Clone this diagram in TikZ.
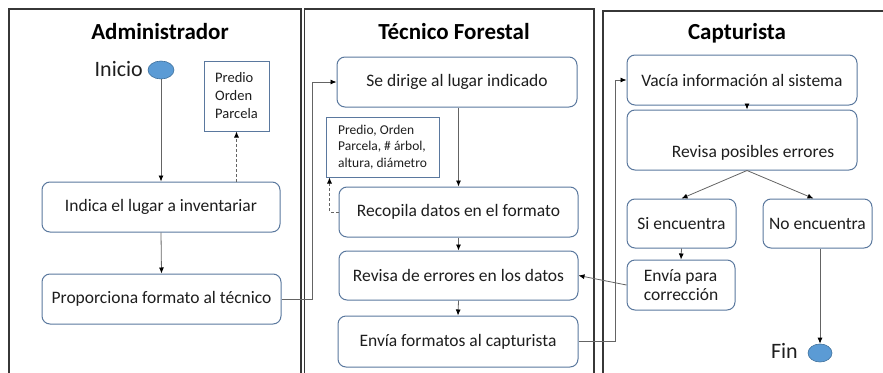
\documentclass[tikz,border=0pt]{standalone}
\usepackage{fontspec}
\setmainfont{Carlito}
\usetikzlibrary{arrows.meta,shapes.geometric}
\definecolor{boxc}{RGB}{90,120,158}
\definecolor{ellf}{RGB}{91,155,213}
\definecolor{elld}{RGB}{65,113,156}
\definecolor{lane}{RGB}{55,55,55}
\definecolor{conn}{RGB}{100,100,100}
\definecolor{txt}{RGB}{30,30,30}
\begin{document}
\begin{tikzpicture}[x=1pt,y=-1pt,
  btxt/.style={font=\fontsize{17.5}{21}\selectfont, text=txt},
  box/.style={draw=boxc, line width=1pt, rounded corners=8pt, fill=white, btxt, inner sep=0pt},
  note/.style={draw=boxc, line width=1pt, fill=white, text=txt, align=left, inner sep=0pt},
  title/.style={font=\bfseries\fontsize{23}{27}\selectfont, text=black},
  term/.style={ellipse, draw=elld, fill=ellf, line width=0.6pt, minimum width=26pt, minimum height=18pt, inner sep=0pt},
  bigtxt/.style={font=\fontsize{22}{26}\selectfont, text=txt, inner sep=0pt, anchor=east},
  arr/.style={draw=conn, line width=0.8pt, -{Latex[length=6pt,width=5pt,color=black]}},
  darr/.style={arr, dashed, dash pattern=on 3pt off 2pt},
  lanel/.style={draw=lane, line width=1.6pt}
]
\useasboundingbox (0,0) rectangle (883,372);
\clip (0,0) rectangle (883,372);

% lanes
\draw[lanel] (9,380) -- (9,9) -- (301,9) -- (301,380);
\draw[lanel] (304.5,380) -- (304.5,9) -- (594,9) -- (594,380);
\draw[lanel] (603,380) -- (603,11) -- (890,11);

% titles
\node[title] (tA) at (160,32) {Administrador};
\node[title] (tT) at (454,32) {Técnico Forestal};
\node[title] (tC) at (737,33) {Capturista};

% Administrador
\node[term] (ini) at (161,70) {};
\node[bigtxt] (iniT) at (143,69) {Inicio};
\node[note, minimum width=65pt, minimum height=70pt, font=\fontsize{14.5}{18}\selectfont] (pA) at (236.5,96) {Predio\\Orden\\Parcela};
\node[box, minimum width=238pt, minimum height=50pt] (n1) at (161,207) {Indica el lugar a inventariar};
\node[box, minimum width=239pt, minimum height=50pt] (n2) at (161.5,299) {Proporciona formato al técnico};

% Tecnico Forestal
\node[box, minimum width=240pt, minimum height=50pt] (n3) at (457,82) {Se dirige al lugar indicado\hspace{24pt}};
\node[note, minimum width=113pt, minimum height=60pt, font=\fontsize{13.5}{16.5}\selectfont] (pB) at (382.5,147) {Predio, Orden\\Parcela, \# árbol,\\altura, diámetro};
\node[box, minimum width=239pt, minimum height=50pt] (n4) at (458.5,212) {Recopila datos en el formato};
\node[box, minimum width=239pt, minimum height=49pt] (n5) at (458.5,275.5) {Revisa de errores en los datos};
\node[box, minimum width=240pt, minimum height=51pt] (n6) at (458,341.5) {Envía formatos al capturista\hspace{14pt}};

% Capturista
\node[box, minimum width=230pt, minimum height=50pt] (n7) at (742,80) {Vacía información al sistema};
\node[box, minimum width=230pt, minimum height=60pt,
  label={[btxt, inner sep=0pt, xshift=11pt, yshift=-13pt]center:Revisa posibles errores}] (n8) at (742,140) {};
\node[box, minimum width=109pt, minimum height=49pt] (n9) at (681.5,223.5) {Si encuentra};
\node[box, minimum width=109pt, minimum height=49pt] (n10) at (817.5,223.5) {No encuentra};
\node[box, minimum width=108pt, minimum height=50pt, align=left, font=\fontsize{17.5}{18.5}\selectfont] (n11) at (681,285) {Envía para\\corrección};
\node[term, minimum width=24pt] (fin) at (820,353) {};
\node[bigtxt] (finT) at (798,351) {Fin};

% connectors
\draw[arr] (ini.south) -- (n1.north);
\draw[darr] (n1.north -| pA.south) -- (pA.south);
\draw[arr] (n1.south) -- (n2.north);
\draw[arr] (n2.east) -- ++(31,0) |- (n3.west);
\draw[arr] (n3.south -| n4.north) -- (n4.north);
\draw[darr] (n4.west) -| ([xshift=4pt]pB.south west);
\draw[arr] (n4.south) -- (n5.north);
\draw[arr] (n5.south) -- (n6.north);
\draw[arr] (n6.east) -- ++(37,0) |- (n7.west);
\draw[arr] ([xshift=5pt]n7.south) -- ([xshift=5pt]n8.north);
\draw[arr] ([xshift=5pt]n8.south) -- (n9.north);
\draw[arr] ([xshift=5pt]n8.south) -- ([xshift=-4pt]n10.north);
\draw[arr] (n9.south) -- (n11.north);
\draw[arr] (n10.south -| fin.north) -- (fin.north);
\draw[arr] (n11.west) -- (n5.east);
\end{tikzpicture}
\end{document}
